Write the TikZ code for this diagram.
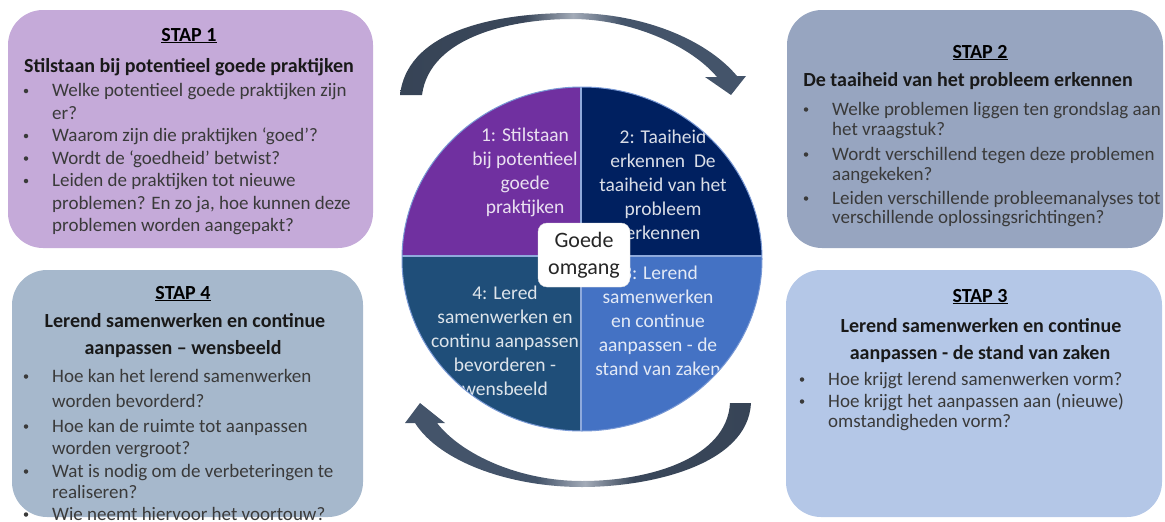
\documentclass[tikz,border=0pt]{standalone}
\usepackage{fontspec}
\setmainfont{Carlito}
\definecolor{boxA}{HTML}{C5AAD9}
\definecolor{boxB}{HTML}{97A5C0}
\definecolor{boxC}{HTML}{B4C7E7}
\definecolor{boxD}{HTML}{A6B8CC}
\definecolor{qA}{HTML}{7030A0}
\definecolor{qB}{HTML}{002060}
\definecolor{qC}{HTML}{4472C4}
\definecolor{qD}{HTML}{1F4E79}
\definecolor{sepc}{HTML}{8FAADC}
\definecolor{arD}{HTML}{333F50}
\definecolor{arM}{HTML}{44546A}
\definecolor{arL}{HTML}{A3ABB8}
\definecolor{bodyc}{HTML}{3A3A3A}
\pgfdeclarehorizontalshading{arrowtop}{100bp}{color(0bp)=(arD); color(43bp)=(arD!60!arM); color(50bp)=(arL); color(57bp)=(arM); color(100bp)=(arM)}
\pgfdeclarehorizontalshading{arrowbot}{100bp}{color(0bp)=(arM); color(44bp)=(arM); color(51bp)=(arL); color(58bp)=(arD!60!arM); color(100bp)=(arD)}
\newcommand{\itemline}[4]{\node[bul] (#1-b) at (#2-26,#3-5.5) {}; \node[body] (#1) at (#2,#3) {#4};}
\newcommand{\contline}[4]{\node[body] (#1) at (#2,#3) {#4};}
\begin{document}
\begin{tikzpicture}[x=1pt,y=-1pt,
  panel/.style={rounded corners=35pt, inner sep=0pt, draw=none},
  stap/.style={font=\fontsize{20}{24}\selectfont\bfseries, anchor=base, inner sep=0pt, text=black},
  head/.style={font=\fontsize{20}{24}\selectfont\bfseries, anchor=base, inner sep=0pt, text=black!90},
  body/.style={font=\fontsize{19}{22}\selectfont, anchor=base west, inner sep=0pt, text=bodyc},
  bul/.style={circle, fill=bodyc, inner sep=0pt, minimum size=4.5pt},
  qtext/.style={font=\fontsize{19.5}{24}\selectfont, anchor=base, inner sep=0pt, text=white, text opacity=0.85},
  sepline/.style={draw=sepc, line width=1.5pt}
]
\useasboundingbox (0,0) rectangle (1165,522);

% ---------- panels ----------
\node[panel, fill=boxA, minimum width=365pt, minimum height=238pt] (p1) at (190.5,129) {};
\node[panel, fill=boxB, minimum width=376pt, minimum height=238pt] (p2) at (975,129) {};
\node[panel, fill=boxC, minimum width=376pt, minimum height=247pt] (p3) at (974,393.5) {};
\node[panel, fill=boxD, minimum width=351pt, minimum height=247pt] (p4) at (187.5,393.5) {};

% ---------- panel 1 ----------
\node[stap] (s1) at (189,41) {\underline{STAP 1}};
\node[head] (h1) at (189,72) {Stilstaan bij potentieel goede praktijken};
\itemline{a1}{52}{96.5}{Welke potentieel goede praktijken zijn}
\contline{a1b}{52}{119}{er?}
\itemline{a2}{52}{141.5}{Waarom zijn die praktijken ‘goed’?}
\itemline{a3}{52}{164}{Wordt de ‘goedheid’ betwist?}
\itemline{a4}{52}{186.5}{Leiden de praktijken tot nieuwe}
\contline{a4b}{52}{209}{problemen? En zo ja, hoe kunnen deze}
\contline{a4c}{52}{231.5}{problemen worden aangepakt?}

% ---------- panel 2 ----------
\node[stap] (s2) at (980,58) {\underline{STAP 2}};
\node[head] (h2) at (968,86) {De taaiheid van het probleem erkennen};
\itemline{b1}{832}{115}{Welke problemen liggen ten grondslag aan}
\contline{b1b}{832}{135}{het vraagstuk?}
\itemline{b2}{832}{160}{Wordt verschillend tegen deze problemen}
\contline{b2b}{832}{180}{aangekeken?}
\itemline{b3}{832}{204}{Leiden verschillende probleemanalyses tot}
\contline{b3b}{832}{223}{verschillende oplossingsrichtingen?}

% ---------- panel 3 ----------
\node[stap] (s3) at (980,302) {\underline{STAP 3}};
\node[head] (h3a) at (981,332) {Lerend samenwerken en continue};
\node[head] (h3b) at (980,359) {aanpassen - de stand van zaken};
\itemline{c1}{828}{385}{Hoe krijgt lerend samenwerken vorm?}
\itemline{c2}{828}{407}{Hoe krijgt het aanpassen aan (nieuwe)}
\contline{c2b}{828}{427}{omstandigheden vorm?}

% ---------- panel 4 ----------
\node[stap] (s4) at (183,299) {\underline{STAP 4}};
\node[head] (h4a) at (185,327) {Lerend samenwerken en continue};
\node[head] (h4b) at (183,354) {aanpassen – wensbeeld};
\itemline{d1}{52}{382}{Hoe kan het lerend samenwerken}
\contline{d1b}{52}{407}{worden bevorderd?}
\itemline{d2}{52}{432}{Hoe kan de ruimte tot aanpassen}
\contline{d2b}{52}{454}{worden vergroot?}
\itemline{d3}{52}{477}{Wat is nodig om de verbeteringen te}
\contline{d3b}{52}{498}{realiseren?}
\itemline{d4}{52}{520}{Wie neemt hiervoor het voortouw?}

% ---------- arrows ----------
\shade[shading=arrowtop]
  (400,95) .. controls (408,25) and (510,13) .. (572,13)
  .. controls (640,13) and (705,38) .. (737,76)
  -- (746,76) -- (731,95) -- (705,77) -- (717,77)
  .. controls (690,45) and (630,19) .. (572,19)
  .. controls (515,19) and (430,35) .. (422,95) -- cycle;
\shade[shading=arrowbot]
  (751,403) .. controls (748,465) and (650,487) .. (582,487)
  .. controls (510,487) and (440,462) .. (415,423)
  -- (405,423) -- (420,403) -- (445,423) -- (437,423)
  .. controls (462,455) and (520,481) .. (582,481)
  .. controls (650,481) and (727,458) .. (730,403) -- cycle;

% ---------- circle ----------
\coordinate (cc) at (582,259);
\coordinate (split) at (581,256);
\begin{scope}
  \clip (cc) ellipse [x radius=180pt, y radius=172pt];
  \fill[qA] (380,60) rectangle (split);
  \fill[qB] (split) rectangle (790,60);
  \fill[qC] (split) rectangle (790,460);
  \fill[qD] (380,460) rectangle (split);
\end{scope}
% quadrant texts
\begin{scope}
  \clip (cc) ellipse [x radius=180pt, y radius=172pt];
  \clip (380,60) rectangle (split);
  \node[qtext] (t1a) at (525,141) {1: Stilstaan};
  \node[qtext] (t1b) at (525,165) {bij potentieel};
  \node[qtext] (t1c) at (525,189) {goede};
  \node[qtext] (t1d) at (525,213) {praktijken};
\end{scope}
\begin{scope}
  \clip (cc) ellipse [x radius=180pt, y radius=172pt];
  \clip (split) rectangle (790,60);
  \node[qtext] (t2a) at (663,143) {2: Taaiheid};
  \node[qtext] (t2b) at (663,167) {erkennen\ \ De};
  \node[qtext] (t2c) at (663,191) {taaiheid van het};
  \node[qtext] (t2d) at (663,215) {probleem};
  \node[qtext] (t2e) at (663,239) {erkennen};
\end{scope}
\begin{scope}
  \clip (cc) ellipse [x radius=180pt, y radius=172pt];
  \clip (split) rectangle (790,460);
  \node[qtext] (t3a) at (660,279) {3: Lerend};
  \node[qtext] (t3b) at (658,303) {samenwerken};
  \node[qtext] (t3c) at (658,327) {en continue};
  \node[qtext] (t3d) at (658,351) {aanpassen - de};
  \node[qtext] (t3e) at (658,375) {stand van zaken};
\end{scope}
\begin{scope}
  \clip (cc) ellipse [x radius=180pt, y radius=172pt];
  \clip (380,460) rectangle (split);
  \node[qtext] (t4a) at (505,299) {4: Lered};
  \node[qtext] (t4b) at (505,323) {samenwerken en};
  \node[qtext] (t4c) at (505,347) {continu aanpassen};
  \node[qtext] (t4d) at (505,371) {bevorderen -};
  \node[qtext] (t4e) at (505,395) {wensbeeld};
\end{scope}
\begin{scope}
  \clip (cc) ellipse [x radius=180pt, y radius=172pt];
  \draw[sepline] (581,60) -- (581,460);
  \draw[sepline] (380,256) -- (790,256);
\end{scope}
\draw[draw=sepc!70!qC, line width=1pt] (cc) ellipse [x radius=180pt, y radius=172pt];

% ---------- centre label ----------
\node[fill=white, draw=black!12, rounded corners=9pt, minimum width=92pt, minimum height=64pt,
      inner sep=0pt, align=center, text=black!85, font=\fontsize{22}{27}\selectfont] (go) at (584,255) {Goede\\omgang};
\end{tikzpicture}
\end{document}
